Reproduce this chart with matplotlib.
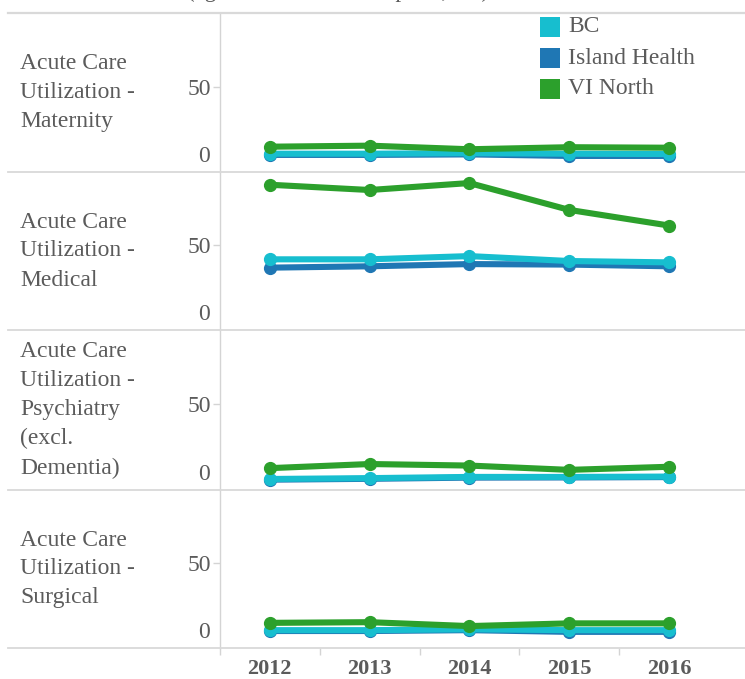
import matplotlib
matplotlib.use("Agg")
import matplotlib.pyplot as plt
from matplotlib.lines import Line2D
from matplotlib.patches import Rectangle

# ---------------- data ----------------
years = ["2012", "2013", "2014", "2015", "2016"]
series_names = ["BC", "Island Health", "VI North"]
series_colors = {"BC": "#17becf", "Island Health": "#1f77b4", "VI North": "#2ca02c"}

row_labels = [
    "Acute Care\nUtilization -\nMaternity",
    "Acute Care\nUtilization -\nMedical",
    "Acute Care\nUtilization -\nPsychiatry\n(excl.\nDementia)",
    "Acute Care\nUtilization -\nSurgical",
]

maternity_bc = [10.7, 10.7, 11.0, 10.7, 10.5]
maternity_ih = [10.0, 10.0, 10.3, 9.4, 9.4]
maternity_vin = [14.8, 15.4, 13.3, 14.5, 14.2]

medical_bc = [41.6, 41.6, 43.5, 40.6, 39.8]
medical_ih = [36.7, 37.5, 38.8, 38.5, 37.5]
medical_vin = [85.5, 82.4, 86.5, 70.7, 61.5]

psych_bc = [6.4, 6.9, 7.6, 7.6, 7.8]
psych_ih = [6.0, 6.5, 7.2, 7.3, 7.5]
psych_vin = [12.7, 15.1, 14.2, 11.7, 13.5]

surgical_bc = [10.5, 10.5, 11.0, 10.5, 10.5]
surgical_ih = [10.0, 10.0, 10.5, 9.5, 9.5]
surgical_vin = [14.8, 15.2, 12.9, 14.5, 14.5]

panels = [
    {"BC": maternity_bc, "Island Health": maternity_ih, "VI North": maternity_vin},
    {"BC": medical_bc, "Island Health": medical_ih, "VI North": medical_vin},
    {"BC": psych_bc, "Island Health": psych_ih, "VI North": psych_vin},
    {"BC": surgical_bc, "Island Health": surgical_ih, "VI North": surgical_vin},
]

title_text = "(age-standardized rate per 1,000)"

# ---------------- styling ----------------
W, H = 745, 679
FONT = "Liberation Serif"
TXT = "#5b5b5b"
LINEC = "#d9d9d9"
plt.rcParams["font.family"] = [FONT, "DejaVu Serif"]

fig = plt.figure(figsize=(W / 100, H / 100), dpi=100)

def fx(px):
    return px / W

def fy(py):
    return 1 - py / H

panel_px = [(13, 172), (172, 330), (330, 490), (490, 648)]
ax_left_px = 220
band_px = 99.75
x_max = (W - ax_left_px) / band_px - 0.5

draw_order = ["Island Health", "BC", "VI North"]
x_idx = list(range(len(years)))

axes = []
for i, ((top, bot), data) in enumerate(zip(panel_px, panels)):
    ax = fig.add_axes([fx(ax_left_px), fy(bot), fx(W - ax_left_px), (bot - top) / H])
    axes.append(ax)
    for name in draw_order:
        ax.plot(x_idx, data[name], color=series_colors[name], lw=4.4,
                marker="o", ms=8.5, solid_capstyle="round", zorder=3,
                clip_on=False)
    ax.set_xlim(-0.5, x_max)
    ax.set_ylim(0, 93)
    for s in ["top", "right", "bottom"]:
        ax.spines[s].set_visible(False)
    ax.spines["left"].set_color("#d4d4d4")
    ax.spines["left"].set_linewidth(1.0)
    ax.set_yticks([50])
    ax.set_yticklabels(["50"])
    ax.tick_params(axis="y", length=5, width=1, color="#d4d4d4", pad=1.5,
                   labelsize=17, labelcolor=TXT)
    # zero label is nudged up inside the pane
    ax.annotate("0", xy=(0, 0), xycoords=("axes fraction", "data"),
                xytext=(-7.2, 11.5), textcoords="offset points",
                ha="right", va="center", fontsize=17, color=TXT)
    # row label
    fig.text(fx(20), fy((top + bot) / 2), row_labels[i], ha="left", va="center",
             fontsize=17, color=TXT, linespacing=1.5)
    if i < 3:
        ax.set_xticks([])
    else:
        ax.set_xticks(x_idx)
        ax.set_xticklabels(years)
        ax.set_xticks([k - 0.5 for k in range(len(years))], minor=True)
        ax.tick_params(axis="x", which="major", length=0, pad=8,
                       labelsize=16, labelcolor=TXT)
        for lab in ax.get_xticklabels():
            lab.set_fontweight("bold")
        ax.tick_params(axis="x", which="minor", length=5, width=1,
                       color="#d4d4d4")

# horizontal separator lines
for py in [13, 172, 330, 490, 648]:
    fig.add_artist(Line2D([fx(8), 1], [fy(py), fy(py)], color=LINEC, lw=1.6 if py == 13 else 1.3))

# legend
for k, name in enumerate(series_names):
    cy = 27 + 31 * k
    fig.add_artist(Rectangle((fx(540), fy(cy + 10)), fx(20), 20 / H,
                             facecolor=series_colors[name], edgecolor="none"))
    fig.text(fx(568), fy(cy), name, ha="left", va="center", fontsize=17, color=TXT)

# title (mostly cut off at the top edge)
fig.text(fx(187), fy(-3.5), title_text, ha="left", va="baseline", fontsize=16.5, color=TXT)

fig.savefig("out.png", dpi=100)
